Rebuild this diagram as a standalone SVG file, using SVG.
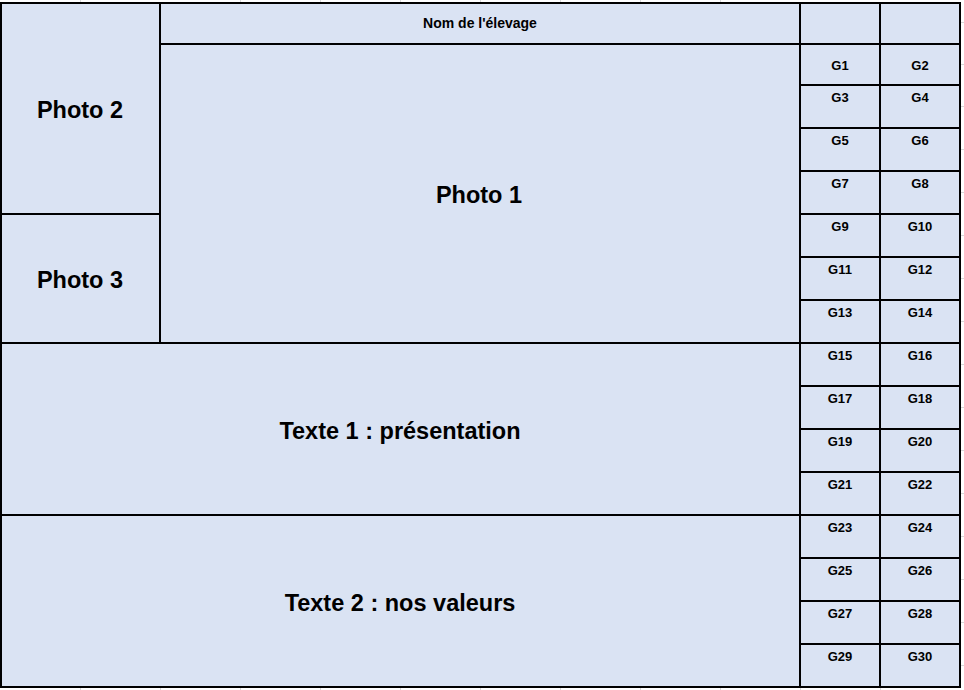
<svg xmlns="http://www.w3.org/2000/svg" width="964" height="690" viewBox="0 0 964 690">
<style>
.cell{fill:#dae3f3;stroke:#000;stroke-width:2}
.big{font-family:"Liberation Sans",Arial,sans-serif;font-weight:bold;font-size:23.5px;fill:#000;text-anchor:middle}
.sm{font-family:"Liberation Sans",Arial,sans-serif;font-weight:bold;font-size:13px;fill:#000;text-anchor:middle}
.nm{font-family:"Liberation Sans",Arial,sans-serif;font-weight:bold;font-size:14px;fill:#000;text-anchor:middle}
.grid{stroke:#d9d9d9;stroke-width:1}
</style>
<rect x="0" y="0" width="964" height="690" fill="#ffffff"/>
<g id="gridlines" class="grid">
<line x1="80.5" y1="0" x2="80.5" y2="2"/><line x1="240.5" y1="0" x2="240.5" y2="2"/><line x1="320.5" y1="0" x2="320.5" y2="2"/><line x1="400.5" y1="0" x2="400.5" y2="2"/><line x1="480.5" y1="0" x2="480.5" y2="2"/><line x1="560.5" y1="0" x2="560.5" y2="2"/><line x1="640.5" y1="0" x2="640.5" y2="2"/><line x1="720.5" y1="0" x2="720.5" y2="2"/>
<line x1="80.5" y1="688" x2="80.5" y2="690"/><line x1="160.5" y1="688" x2="160.5" y2="690"/><line x1="240.5" y1="688" x2="240.5" y2="690"/><line x1="320.5" y1="688" x2="320.5" y2="690"/><line x1="400.5" y1="688" x2="400.5" y2="690"/><line x1="480.5" y1="688" x2="480.5" y2="690"/><line x1="560.5" y1="688" x2="560.5" y2="690"/><line x1="640.5" y1="688" x2="640.5" y2="690"/><line x1="720.5" y1="688" x2="720.5" y2="690"/><line x1="800.5" y1="688" x2="800.5" y2="690"/><line x1="880.5" y1="688" x2="880.5" y2="690"/>
<line x1="961" y1="22.5" x2="964" y2="22.5"/><line x1="961" y1="64.5" x2="964" y2="64.5"/><line x1="961" y1="106.5" x2="964" y2="106.5"/><line x1="961" y1="149.5" x2="964" y2="149.5"/><line x1="961" y1="192.5" x2="964" y2="192.5"/><line x1="961" y1="235.5" x2="964" y2="235.5"/><line x1="961" y1="278.5" x2="964" y2="278.5"/><line x1="961" y1="321.5" x2="964" y2="321.5"/><line x1="961" y1="364.5" x2="964" y2="364.5"/><line x1="961" y1="407.5" x2="964" y2="407.5"/><line x1="961" y1="450.5" x2="964" y2="450.5"/><line x1="961" y1="493.5" x2="964" y2="493.5"/><line x1="961" y1="536.5" x2="964" y2="536.5"/><line x1="961" y1="579.5" x2="964" y2="579.5"/><line x1="961" y1="622.5" x2="964" y2="622.5"/><line x1="961" y1="665.5" x2="964" y2="665.5"/>
</g>
<g id="connectors"></g>
<g id="photo2"><rect class="cell" x="1" y="3" width="159" height="211"/><text class="big" x="80" y="118">Photo 2</text></g>
<g id="photo3"><rect class="cell" x="1" y="214" width="159" height="129"/><text class="big" x="80" y="288">Photo 3</text></g>
<g id="nom"><rect class="cell" x="160" y="3" width="640" height="41"/><text class="nm" x="480" y="28">Nom de l'élevage</text></g>
<g id="photo1"><rect class="cell" x="160" y="44" width="640" height="299"/><text class="big" x="479" y="202.5">Photo 1</text></g>
<g id="texte1"><rect class="cell" x="1" y="343" width="799" height="172"/><text class="big" x="400" y="438.5">Texte 1 : présentation</text></g>
<g id="texte2"><rect class="cell" x="1" y="515" width="799" height="172"/><text class="big" x="400" y="610.5">Texte 2 : nos valeurs</text></g>
<g id="head1"><rect class="cell" x="800" y="3" width="80" height="41"/></g>
<g id="head2"><rect class="cell" x="880" y="3" width="80" height="41"/></g>
<g id="g1"><rect class="cell" x="800" y="44" width="80" height="41"/><text class="sm" x="840" y="70">G1</text></g>
<g id="g2"><rect class="cell" x="880" y="44" width="80" height="41"/><text class="sm" x="920" y="70">G2</text></g>
<g id="g3"><rect class="cell" x="800" y="85" width="80" height="43"/><text class="sm" x="840" y="102">G3</text></g>
<g id="g4"><rect class="cell" x="880" y="85" width="80" height="43"/><text class="sm" x="920" y="102">G4</text></g>
<g id="g5"><rect class="cell" x="800" y="128" width="80" height="43"/><text class="sm" x="840" y="145">G5</text></g>
<g id="g6"><rect class="cell" x="880" y="128" width="80" height="43"/><text class="sm" x="920" y="145">G6</text></g>
<g id="g7"><rect class="cell" x="800" y="171" width="80" height="43"/><text class="sm" x="840" y="188">G7</text></g>
<g id="g8"><rect class="cell" x="880" y="171" width="80" height="43"/><text class="sm" x="920" y="188">G8</text></g>
<g id="g9"><rect class="cell" x="800" y="214" width="80" height="43"/><text class="sm" x="840" y="231">G9</text></g>
<g id="g10"><rect class="cell" x="880" y="214" width="80" height="43"/><text class="sm" x="920" y="231">G10</text></g>
<g id="g11"><rect class="cell" x="800" y="257" width="80" height="43"/><text class="sm" x="840" y="274">G11</text></g>
<g id="g12"><rect class="cell" x="880" y="257" width="80" height="43"/><text class="sm" x="920" y="274">G12</text></g>
<g id="g13"><rect class="cell" x="800" y="300" width="80" height="43"/><text class="sm" x="840" y="317">G13</text></g>
<g id="g14"><rect class="cell" x="880" y="300" width="80" height="43"/><text class="sm" x="920" y="317">G14</text></g>
<g id="g15"><rect class="cell" x="800" y="343" width="80" height="43"/><text class="sm" x="840" y="360">G15</text></g>
<g id="g16"><rect class="cell" x="880" y="343" width="80" height="43"/><text class="sm" x="920" y="360">G16</text></g>
<g id="g17"><rect class="cell" x="800" y="386" width="80" height="43"/><text class="sm" x="840" y="403">G17</text></g>
<g id="g18"><rect class="cell" x="880" y="386" width="80" height="43"/><text class="sm" x="920" y="403">G18</text></g>
<g id="g19"><rect class="cell" x="800" y="429" width="80" height="43"/><text class="sm" x="840" y="446">G19</text></g>
<g id="g20"><rect class="cell" x="880" y="429" width="80" height="43"/><text class="sm" x="920" y="446">G20</text></g>
<g id="g21"><rect class="cell" x="800" y="472" width="80" height="43"/><text class="sm" x="840" y="489">G21</text></g>
<g id="g22"><rect class="cell" x="880" y="472" width="80" height="43"/><text class="sm" x="920" y="489">G22</text></g>
<g id="g23"><rect class="cell" x="800" y="515" width="80" height="43"/><text class="sm" x="840" y="532">G23</text></g>
<g id="g24"><rect class="cell" x="880" y="515" width="80" height="43"/><text class="sm" x="920" y="532">G24</text></g>
<g id="g25"><rect class="cell" x="800" y="558" width="80" height="43"/><text class="sm" x="840" y="575">G25</text></g>
<g id="g26"><rect class="cell" x="880" y="558" width="80" height="43"/><text class="sm" x="920" y="575">G26</text></g>
<g id="g27"><rect class="cell" x="800" y="601" width="80" height="43"/><text class="sm" x="840" y="618">G27</text></g>
<g id="g28"><rect class="cell" x="880" y="601" width="80" height="43"/><text class="sm" x="920" y="618">G28</text></g>
<g id="g29"><rect class="cell" x="800" y="644" width="80" height="43"/><text class="sm" x="840" y="661">G29</text></g>
<g id="g30"><rect class="cell" x="880" y="644" width="80" height="43"/><text class="sm" x="920" y="661">G30</text></g>
</svg>
